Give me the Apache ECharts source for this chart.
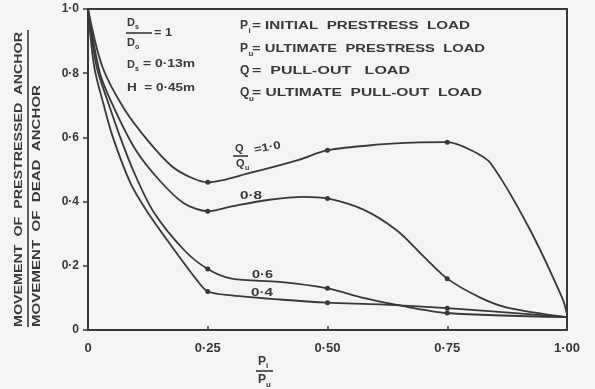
<!DOCTYPE html>
<html><head><meta charset="utf-8">
<script src="https://cdn.jsdelivr.net/npm/echarts@6/dist/echarts.min.js"></script>
<style>html,body{margin:0;padding:0;background:#f4f4f2}#c{width:595px;height:389px}</style>
</head><body><div id="c"></div>
<script>
// ---- data ----
const xTickLabels = ['0', '0·25', '0·50', '0·75', '1·00'];
const yTickLabels = ['0', '0·2', '0·4', '0·6', '0·8', '1·0'];
const markedX = [0.25, 0.5, 0.75];

const q10X = [0, 0.03, 0.075, 0.125, 0.175, 0.215, 0.25, 0.34, 0.44, 0.5, 0.61, 0.68, 0.75, 0.8, 0.84, 0.92, 0.99, 1.0];
const q10Y = [1.0, 0.82, 0.69, 0.59, 0.51, 0.475, 0.46, 0.49, 0.53, 0.56, 0.578, 0.584, 0.585, 0.56, 0.52, 0.32, 0.10, 0.05];

const q08X = [0, 0.025, 0.055, 0.1, 0.15, 0.2, 0.25, 0.3, 0.375, 0.45, 0.5, 0.575, 0.645, 0.7, 0.75, 0.82, 0.875, 1.0];
const q08Y = [1.0, 0.80, 0.69, 0.56, 0.465, 0.395, 0.37, 0.385, 0.405, 0.415, 0.41, 0.375, 0.31, 0.23, 0.16, 0.10, 0.07, 0.04];

const q06X = [0, 0.018, 0.044, 0.065, 0.095, 0.136, 0.2, 0.25, 0.3, 0.4, 0.5, 0.575, 0.645, 0.75, 1.0];
const q06Y = [1.0, 0.82, 0.70, 0.61, 0.495, 0.37, 0.25, 0.19, 0.16, 0.15, 0.13, 0.10, 0.078, 0.053, 0.04];

const q04X = [0, 0.013, 0.033, 0.052, 0.088, 0.123, 0.175, 0.227, 0.25, 0.3, 0.4, 0.5, 0.61, 0.75, 1.0];
const q04Y = [1.0, 0.82, 0.70, 0.60, 0.46, 0.37, 0.26, 0.156, 0.12, 0.108, 0.095, 0.085, 0.08, 0.068, 0.04];

// ---- drawing ----
const INK = '#383838';
const FONT = '"Liberation Sans", Arial, sans-serif';
const ctx = document.createElement('canvas').getContext('2d');

function pts(xs, ys) {
  return xs.map((x, i) => ({
    value: [x, ys[i]],
    symbol: markedX.indexOf(x) >= 0 ? 'circle' : 'none'
  }));
}
function line(d) {
  return {
    type: 'line', data: d, smooth: 0.3,
    symbol: 'circle', symbolSize: 5, showSymbol: true,
    itemStyle: { color: INK }, lineStyle: { color: INK, width: 1.8 },
    silent: true, animation: false
  };
}
function txt(str, x, y, size, width, extra) {
  const font = 'bold ' + size + 'px ' + FONT;
  ctx.font = font;
  const w = ctx.measureText(str).width;
  return Object.assign({
    type: 'text', x: x, y: y, scaleX: width ? width / w : 1,
    style: { text: str, font: font, fill: INK, align: 'left', verticalAlign: 'top' }
  }, extra || {});
}
function seg(x1, y1, x2, y2) {
  return { type: 'line', shape: { x1: x1, y1: y1, x2: x2, y2: y2 }, style: { stroke: INK, lineWidth: 1.6 } };
}

const graphics = [
  // parameters
  txt('D', 127, 17, 11), txt('s', 135, 24, 7), seg(126, 33, 152, 33),
  txt('D', 127, 37, 11), txt('o', 135, 44, 7), txt('= 1', 154, 28, 10, 18),
  txt('D', 127, 59, 11), txt('s', 135, 66, 7), txt('= 0·13m', 143, 59, 10, 52),
  txt('H  = 0·45m', 127, 83, 10, 68),
  // definitions
  txt('P', 240, 20, 12), txt('i', 248.5, 27, 8), txt('= INITIAL  PRESTRESS  LOAD', 252, 20, 11, 218),
  txt('P', 240, 43, 12), txt('u', 248.5, 50, 8), txt('= ULTIMATE  PRESTRESS  LOAD', 252, 43, 11, 233),
  txt('Q', 240, 65, 12), txt('=  PULL-OUT   LOAD', 252, 65, 11, 158),
  txt('Q', 240, 87, 12), txt('u', 249, 95, 8), txt('= ULTIMATE  PULL-OUT  LOAD', 252, 87, 11, 230),
  // curve labels
  txt('Q', 235, 143, 11), seg(233, 156, 248, 156), txt('Q', 236, 158, 11), txt('u', 245, 165, 7),
  txt('=1·0', 253, 145, 11, 27, { rotation: 0.2 }),
  txt('0·8', 240, 190, 11, 22),
  txt('0·6', 252, 269, 11, 21),
  txt('0·4', 251, 287, 11, 22),
  // x title
  txt('P', 258, 356, 12), txt('i', 266, 362, 8), seg(256, 371, 273, 371),
  txt('P', 258, 374, 12), txt('u', 266, 381, 8),
  // y title
  txt('MOVEMENT  OF  PRESTRESSED  ANCHOR', 13, 327, 11, 295, { rotation: Math.PI / 2 }),
  seg(28, 30, 28, 327),
  txt('MOVEMENT  OF  DEAD  ANCHOR', 31, 327, 11, 242, { rotation: Math.PI / 2 })
];

const chart = echarts.init(document.getElementById('c'), null, { renderer: 'canvas' });
chart.setOption({
  backgroundColor: '#f4f4f2',
  animation: false,
  grid: { left: 88, right: 28, top: 9, bottom: 59, show: true, borderColor: INK, borderWidth: 2, backgroundColor: 'transparent' },
  xAxis: {
    type: 'value', min: 0, max: 1, interval: 0.25,
    axisLine: { show: true, lineStyle: { color: INK, width: 2 } },
    axisTick: { show: true, inside: true, length: 4, lineStyle: { color: INK, width: 1.5 } },
    splitLine: { show: false },
    axisLabel: {
      margin: 12, color: INK, fontFamily: FONT, fontWeight: 'bold', fontSize: 13,
      formatter: v => xTickLabels[Math.round(v * 4)]
    }
  },
  yAxis: {
    type: 'value', min: 0, max: 1, interval: 0.2,
    axisLine: { show: true, lineStyle: { color: INK, width: 2 } },
    axisTick: { show: true, inside: false, length: 5, lineStyle: { color: INK, width: 1.5 } },
    splitLine: { show: false },
    axisLabel: {
      margin: 9, color: INK, fontFamily: FONT, fontWeight: 'bold', fontSize: 12,
      formatter: v => yTickLabels[Math.round(v * 5)]
    }
  },
  series: [line(pts(q10X, q10Y)), line(pts(q08X, q08Y)), line(pts(q06X, q06Y)), line(pts(q04X, q04Y))],
  graphic: { elements: graphics }
});
</script></body></html>
